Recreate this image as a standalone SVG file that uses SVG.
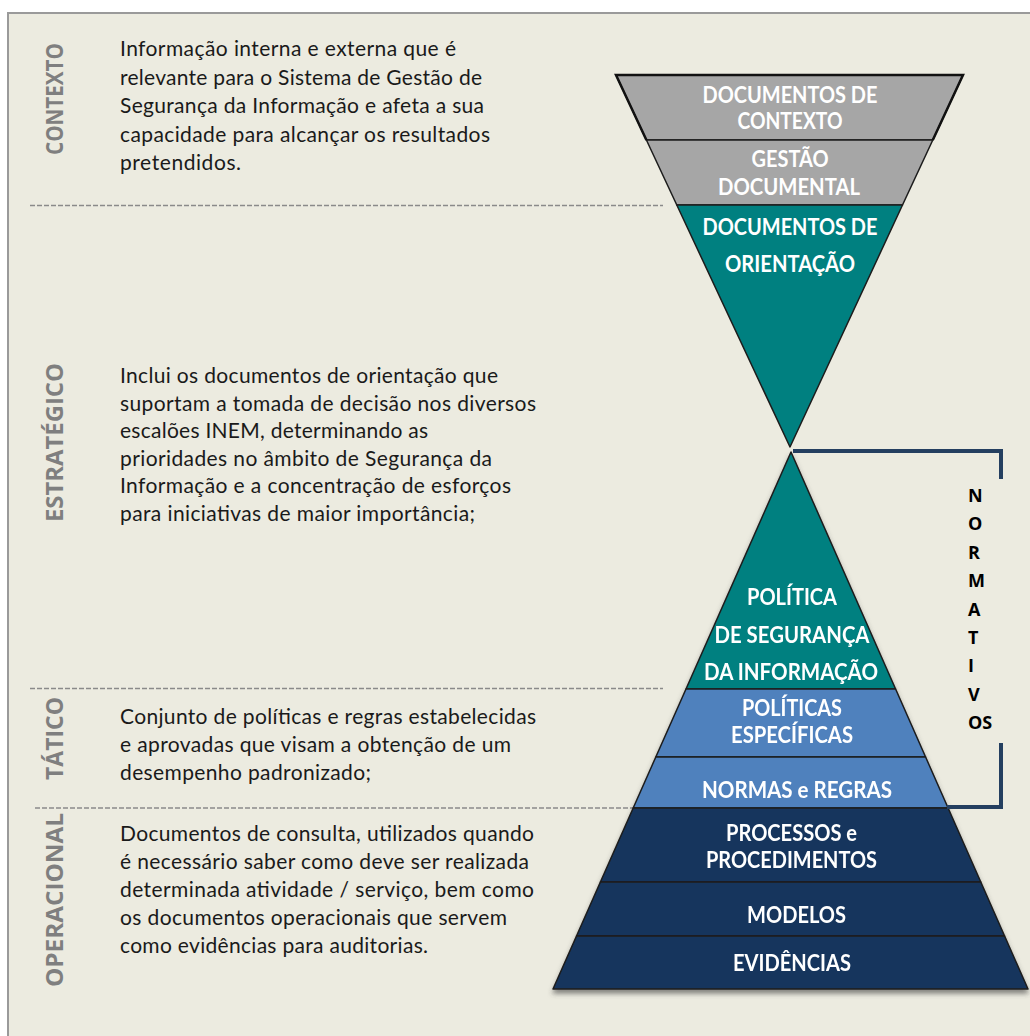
<svg xmlns="http://www.w3.org/2000/svg" width="1030" height="1036" viewBox="0 0 1030 1036">
  <style>
    .body { font-family: Lato, "Open Sans", "Liberation Sans", sans-serif; font-size: 21px; fill: #1a1a1a; }
    .side { font-family: "Open Sans", Lato, "Liberation Sans", sans-serif; font-size: 23px; font-weight: 700; fill: #7f7f7f; text-anchor: middle; }
    .lbl { font-family: Lato, "Open Sans", "Liberation Sans", sans-serif; font-size: 22px; font-weight: 700; fill: #ffffff; text-anchor: middle; }
    .vert { font-family: "Open Sans", Lato, "Liberation Sans", sans-serif; font-size: 18px; font-weight: 700; fill: #000000; }
    .sep { stroke: #8a8a8a; stroke-width: 1.6; stroke-dasharray: 5 2; fill: none; }
    .band { stroke: #1c1c1c; stroke-width: 1.5; stroke-linejoin: round; }
    .gray { fill: #a6a6a6; }
    .teal { fill: #008080; }
    .light { fill: #4f81bd; }
    .navy { fill: #17365d; }
    .bracket { stroke: #243f60; stroke-width: 4; fill: none; }
  </style>
  <defs>
    <filter id="shadow" x="-10%" y="-10%" width="120%" height="120%">
      <feDropShadow dx="0" dy="4" stdDeviation="2.5" flood-color="#404040" flood-opacity="0.6"/>
    </filter>
  </defs>

  <!-- page and frame -->
  <rect x="0" y="0" width="1030" height="1036" fill="#ffffff"/>
  <rect x="8" y="13" width="1040" height="1040" fill="#ecebe0" stroke="#9a9a9a" stroke-width="2"/>

  <!-- layer separators -->
  <g id="separators">
    <line class="sep" x1="30" y1="205.5" x2="663" y2="205.5"/>
    <line class="sep" x1="30" y1="688.5" x2="663" y2="688.5"/>
    <line class="sep" x1="35" y1="808" x2="633" y2="808"/>
  </g>

  <!-- layer names and descriptions -->
  <g id="layer-contexto">
    <text class="side" transform="translate(63,99) rotate(-90)" textLength="112" lengthAdjust="spacingAndGlyphs">CONTEXTO</text>
    <text class="body" x="120" y="56" textLength="336">Informação interna e externa que é</text>
    <text class="body" x="120" y="84.5" textLength="362">relevante para o Sistema de Gestão de</text>
    <text class="body" x="120" y="113" textLength="364">Segurança da Informação e afeta a sua</text>
    <text class="body" x="120" y="141.5" textLength="370">capacidade para alcançar os resultados</text>
    <text class="body" x="120" y="170" textLength="121">pretendidos.</text>
  </g>

  <g id="layer-estrategico">
    <text class="side" transform="translate(63,442.5) rotate(-90)" textLength="159" lengthAdjust="spacingAndGlyphs">ESTRATÉGICO</text>
    <text class="body" x="120" y="383" textLength="378">Inclui os documentos de orientação que</text>
    <text class="body" x="120" y="410.6" textLength="416">suportam a tomada de decisão nos diversos</text>
    <text class="body" x="120" y="438.2" textLength="308">escalões INEM, determinando as</text>
    <text class="body" x="120" y="465.8" textLength="372">prioridades no âmbito de Segurança da</text>
    <text class="body" x="120" y="493.4" textLength="391">Informação e a concentração de esforços</text>
    <text class="body" x="120" y="521" textLength="355">para iniciativas de maior importância;</text>
  </g>

  <g id="layer-tatico">
    <text class="side" transform="translate(63,738.5) rotate(-90)" textLength="83" lengthAdjust="spacingAndGlyphs">TÁTICO</text>
    <text class="body" x="120" y="724" textLength="416">Conjunto de políticas e regras estabelecidas</text>
    <text class="body" x="120" y="752" textLength="391">e aprovadas que visam a obtenção de um</text>
    <text class="body" x="120" y="780" textLength="251">desempenho padronizado;</text>
  </g>

  <g id="layer-operacional">
    <text class="side" transform="translate(63,900) rotate(-90)" textLength="174" lengthAdjust="spacingAndGlyphs">OPERACIONAL</text>
    <text class="body" x="120" y="841" textLength="414">Documentos de consulta, utilizados quando</text>
    <text class="body" x="120" y="869" textLength="409">é necessário saber como deve ser realizada</text>
    <text class="body" x="120" y="897" textLength="414">determinada atividade / serviço, bem como</text>
    <text class="body" x="120" y="925" textLength="387">os documentos operacionais que servem</text>
    <text class="body" x="120" y="953" textLength="308">como evidências para auditorias.</text>
  </g>

  <!-- inverted triangle: context and orientation documents -->
  <g id="doc-contexto">
    <polygon class="band gray" points="616,75 963,75 932.8,140 646.4,140"/>
    <text class="lbl" x="790" y="102.7" textLength="175" lengthAdjust="spacingAndGlyphs">DOCUMENTOS DE</text>
    <text class="lbl" x="790" y="129.3" textLength="105" lengthAdjust="spacingAndGlyphs">CONTEXTO</text>
  </g>
  <g id="gestao-documental">
    <polygon class="band gray" points="646.4,140 932.8,140 902.5,205 676.8,205"/>
    <text class="lbl" x="790" y="167.3" textLength="77" lengthAdjust="spacingAndGlyphs">GESTÃO</text>
    <text class="lbl" x="789" y="195" textLength="142" lengthAdjust="spacingAndGlyphs">DOCUMENTAL</text>
  </g>
  <g id="doc-orientacao">
    <polygon class="band teal" points="676.8,205 902.5,205 790,447"/>
    <text class="lbl" x="790" y="235" textLength="175" lengthAdjust="spacingAndGlyphs">DOCUMENTOS DE</text>
    <text class="lbl" x="790" y="272.3" textLength="130" lengthAdjust="spacingAndGlyphs">ORIENTAÇÃO</text>
  </g>
  <!-- heavier rim on the top of the funnel -->
  <polyline points="646.4,140 616,75 963,75 932.8,140" fill="none" stroke="#111" stroke-width="2.5" stroke-linejoin="miter"/>

  <!-- upright pyramid: normative and operational documents -->
  <g filter="url(#shadow)">
    <g id="politica-seguranca">
      <polygon class="band teal" points="791,452 895.6,689 686,689"/>
      <text class="lbl" x="792" y="605" textLength="90" lengthAdjust="spacingAndGlyphs">POLÍTICA</text>
      <text class="lbl" x="792" y="642.7" textLength="155" lengthAdjust="spacingAndGlyphs">DE SEGURANÇA</text>
      <text class="lbl" x="791" y="680" textLength="174" lengthAdjust="spacingAndGlyphs">DA INFORMAÇÃO</text>
    </g>
    <g id="politicas-especificas">
      <polygon class="band light" points="686,689 895.6,689 925.6,757 655.8,757"/>
      <text class="lbl" x="792" y="716" textLength="100" lengthAdjust="spacingAndGlyphs">POLÍTICAS</text>
      <text class="lbl" x="792" y="743.3" textLength="122" lengthAdjust="spacingAndGlyphs">ESPECÍFICAS</text>
    </g>
    <g id="normas-regras">
      <polygon class="band light" points="655.8,757 925.6,757 948.1,808 633.2,808"/>
      <text class="lbl" x="797" y="797.7" textLength="190" lengthAdjust="spacingAndGlyphs">NORMAS e REGRAS</text>
    </g>
    <g id="processos">
      <polygon class="band navy" points="633.2,808 948.1,808 980.8,882 600.4,882"/>
      <text class="lbl" x="791.5" y="840.7" textLength="131" lengthAdjust="spacingAndGlyphs">PROCESSOS e</text>
      <text class="lbl" x="791.5" y="867.7" textLength="171" lengthAdjust="spacingAndGlyphs">PROCEDIMENTOS</text>
    </g>
    <g id="modelos">
      <polygon class="band navy" points="600.4,882 980.8,882 1004.6,936 576.5,936"/>
      <text class="lbl" x="796.5" y="922.7" textLength="99" lengthAdjust="spacingAndGlyphs">MODELOS</text>
    </g>
    <g id="evidencias">
      <polygon class="band navy" points="576.5,936 1004.6,936 1028,989 553,989"/>
      <text class="lbl" x="792" y="970.7" textLength="118" lengthAdjust="spacingAndGlyphs">EVIDÊNCIAS</text>
    </g>
  </g>

  <!-- bracket grouping the normative levels -->
  <g id="connectors">
    <polyline class="bracket" points="793,451 1001,451 1001,479"/>
    <polyline class="bracket" points="1001,743 1001,807 947,807"/>
  </g>

  <g id="normativos">
    <text class="vert" x="968" y="502">N</text>
    <text class="vert" x="968" y="530.4">O</text>
    <text class="vert" x="968" y="558.8">R</text>
    <text class="vert" x="968" y="587.2">M</text>
    <text class="vert" x="968" y="615.6">A</text>
    <text class="vert" x="968" y="644">T</text>
    <text class="vert" x="968" y="672.4">I</text>
    <text class="vert" x="968" y="700.8">V</text>
    <text class="vert" x="968" y="729.2">OS</text>
  </g>
</svg>
